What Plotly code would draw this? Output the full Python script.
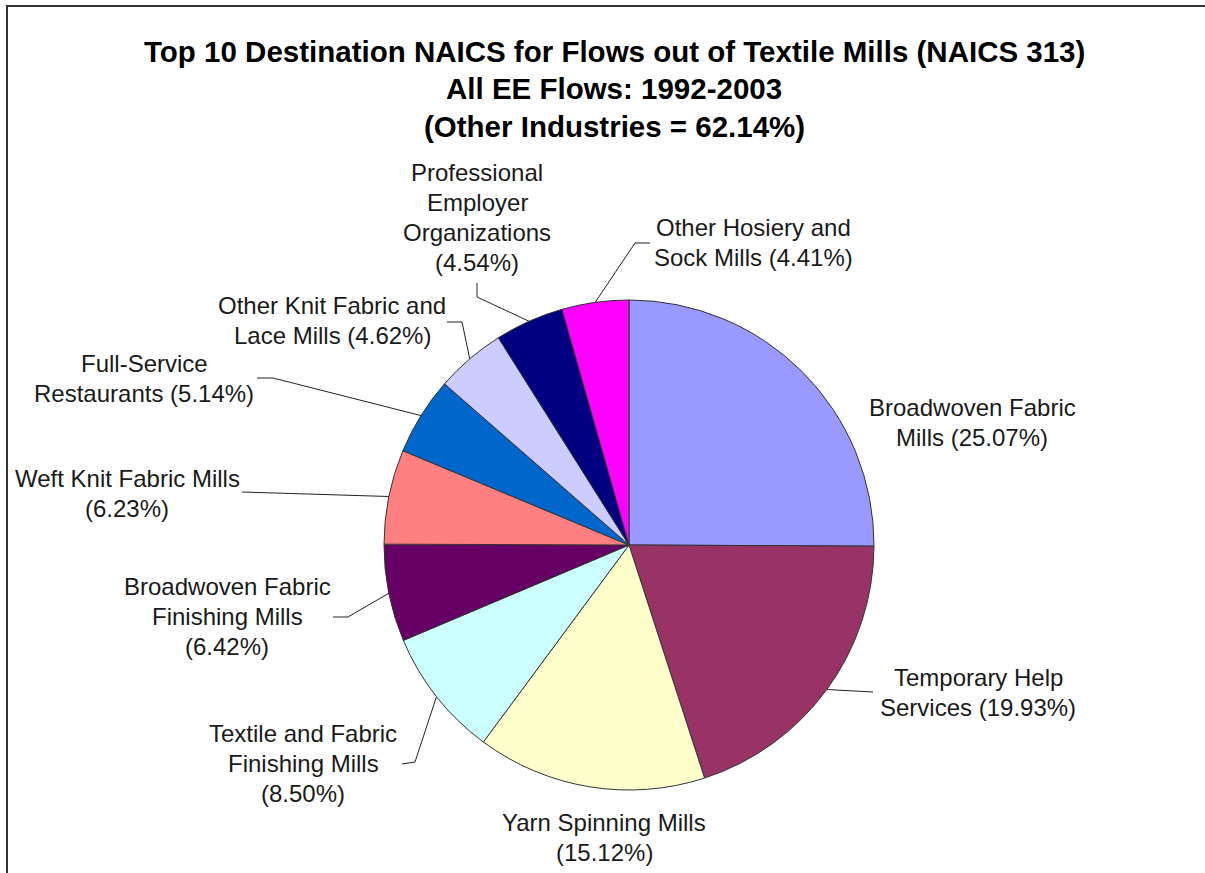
import math
import plotly.graph_objects as go

# Top 10 destination industries for employee flows out of Textile Mills (NAICS 313)
industries = [
    "Broadwoven Fabric Mills",
    "Temporary Help Services",
    "Yarn Spinning Mills",
    "Textile and Fabric Finishing Mills",
    "Broadwoven Fabric Finishing Mills",
    "Weft Knit Fabric Mills",
    "Full-Service Restaurants",
    "Other Knit Fabric and Lace Mills",
    "Professional Employer Organizations",
    "Other Hosiery and Sock Mills",
]
shares = [25.07, 19.93, 15.12, 8.50, 6.42, 6.23, 5.14, 4.62, 4.54, 4.41]
other_industries_share = 62.14

# label text with line breaks; {p} is replaced by the formatted share
label_formats = [
    "Broadwoven Fabric\nMills {p}",
    "Temporary Help\nServices {p}",
    "Yarn Spinning Mills\n{p}",
    "Textile and Fabric\nFinishing Mills\n{p}",
    "Broadwoven Fabric\nFinishing Mills\n{p}",
    "Weft Knit Fabric Mills\n{p}",
    "Full-Service\nRestaurants {p}",
    "Other Knit Fabric and\nLace Mills {p}",
    "Professional\nEmployer\nOrganizations\n{p}",
    "Other Hosiery and\nSock Mills {p}",
]
title_lines = [
    "Top 10 Destination NAICS for Flows out of Textile Mills (NAICS 313)",
    "All EE Flows: 1992-2003",
    "(Other Industries = {o:.2f}%)",
]
colors = ["#9999FF", "#993366", "#FFFFCC", "#CCFFFF", "#660066",
          "#FF8080", "#0066CC", "#CCCCFF", "#000080", "#FF00FF"]

# ---- layout (pixel space, y grows downward) ----
W, H = 1205, 873
CX, CY, R = 629, 545, 245
FONT = "Arial, Liberation Sans, sans-serif"
LABEL_SIZE = 24
LINE_GAP = 30

# centre x and first-line y of each label block
label_pos = [(972, 407), (978, 677), (604, 822), (303, 733), (227, 586),
             (127, 478), (144, 363), (332, 305), (477, 172), (753, 227)]
# leader-line bend points, from the label towards the slice
leader_bends = [
    None,
    [(873, 692)],
    None,
    [(402, 764), (415, 762)],
    [(333, 617), (348, 617)],
    [(242, 492)],
    [(257, 378), (273, 378)],
    [(447, 322), (462, 322)],
    [(477, 283), (477, 297)],
    [(650, 243), (635, 243)],
]

fig = go.Figure()

fig.add_trace(go.Pie(
    labels=industries,
    values=shares,
    sort=False,
    direction="clockwise",
    rotation=0,
    marker=dict(colors=colors, line=dict(color="#333333", width=1)),
    textinfo="none",
    hoverinfo="label+percent",
    showlegend=False,
    domain=dict(x=[(CX - R) / W, (CX + R) / W],
                y=[1 - (CY + R) / H, 1 - (CY - R) / H]),
))

total = sum(shares)
cum = 0.0
annotations = []
for i, (name, v) in enumerate(zip(industries, shares)):
    mid = (cum + v / 2) / total
    cum += v
    ang = 2 * math.pi * mid
    ex, ey = CX + R * math.sin(ang), CY - R * math.cos(ang)

    if leader_bends[i]:
        pts = leader_bends[i] + [(ex, ey)]
        fig.add_trace(go.Scatter(
            x=[p[0] for p in pts], y=[p[1] for p in pts],
            mode="lines", line=dict(color="#222222", width=1),
            hoverinfo="skip", showlegend=False,
        ))

    text = label_formats[i].format(p="({:.2f}%)".format(v))
    lx, ly = label_pos[i]
    for k, line in enumerate(text.split("\n")):
        annotations.append(dict(
            x=lx, y=ly + k * LINE_GAP, xref="x", yref="y",
            text=line, showarrow=False, xanchor="center", yanchor="middle",
            font=dict(family=FONT, size=LABEL_SIZE, color="#1a1a1a"),
        ))

for k, line in enumerate(title_lines):
    annotations.append(dict(
        x=614, y=51 + k * 37.5, xref="x", yref="y",
        text="<b>" + line.format(o=other_industries_share) + "</b>",
        showarrow=False, xanchor="center", yanchor="middle",
        font=dict(family=FONT, size=29.5, color="#000000"),
    ))

# chart frame: left and top edges, drawn as one open path in page units
fx, fy = 7 / W, 1 - 6 / H
fig.add_shape(type="path", xref="paper", yref="paper",
              path=f"M {fx},0 L {fx},{fy} L 1.05,{fy}",
              line=dict(color="#333333", width=2))

fig.update_layout(
    width=W, height=H,
    margin=dict(l=0, r=0, t=0, b=0),
    paper_bgcolor="white", plot_bgcolor="white",
    xaxis=dict(range=[0, W], visible=False, fixedrange=True),
    yaxis=dict(range=[H, 0], visible=False, fixedrange=True),
    annotations=annotations,
    showlegend=False,
)

fig.write_html("out.html", config={"displayModeBar": False})
